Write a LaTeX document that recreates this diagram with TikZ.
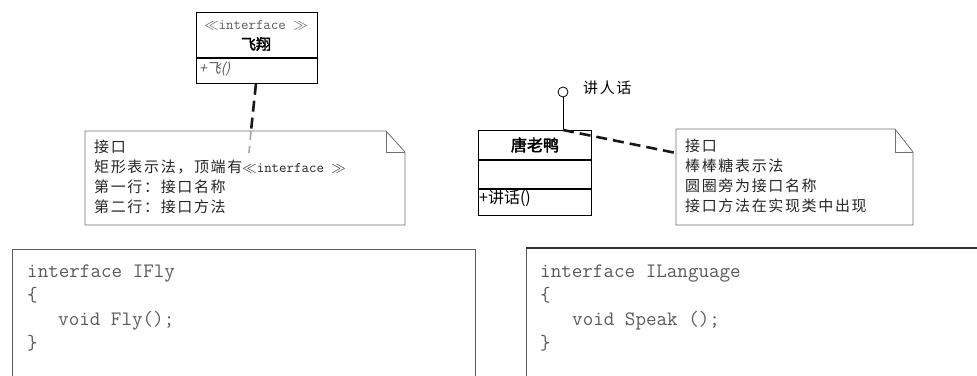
\documentclass[tikz,border=0pt]{standalone}
\usepackage{fontspec}
\setmainfont{Liberation Serif}
\newfontfamily\cjk[AutoFakeBold=2.5,AutoFakeSlant=0.2]{Noto Sans CJK SC}
\newfontfamily\cjkn[LetterSpace=11]{Noto Sans CJK SC}
\newcommand\stereofont{\ttfamily\fontsize{14.5}{16}\selectfont}
\newcommand\codefont{\ttfamily\fontsize{20.5}{24}\selectfont}
\definecolor{codegray}{HTML}{5A5A5A}
\definecolor{notegray}{HTML}{707070}
\tikzset{
  notebox/.style={draw=notegray, line width=0.8pt},
  notetext/.style={anchor=north west, inner sep=0pt, align=left, font=\cjkn\fontsize{15}{20}\selectfont, text=black!85},
  classbox/.style={draw=black, line width=0.9pt, minimum width=113pt, inner sep=0pt},
  conn/.style={line width=2.6pt, dash pattern=on 11pt off 6pt, black!90},
  codebox/.style={draw=codegray, line width=0.9pt},
  codetext/.style={anchor=base west, inner sep=0pt, font=\codefont, text=codegray},
}
\begin{document}
\begin{tikzpicture}[x=1pt,y=-1pt]
\useasboundingbox (0,0) rectangle (977,375);

% interface box 飞翔
\node[classbox, minimum width=121pt, minimum height=45pt, anchor=north west] (ifhead) at (196,12) {};
\node[classbox, minimum width=121pt, minimum height=25pt, anchor=north] (ifops) at (ifhead.south) {};
\node[inner sep=0pt, font=\stereofont, text=codegray] (stereo) at (256,25) {$\ll$interface $\gg$};
\node[inner sep=0pt, font=\cjk\bfseries\fontsize{15}{17}\selectfont] (ifname) at (256,44) {飞翔};
\node[anchor=west, inner sep=0pt, font=\cjk\itshape\fontsize{14}{16}\selectfont, text=codegray] (ifop) at (199,69) {+飞()};

% note 1
\draw[notebox, fill=white] (85,131) -- (386,131) -- (405,152) -- (405,225) -- (85,225) -- cycle;
\draw[notebox] (386,131) -- (386,152) -- (405,152);
\coordinate (n1top) at (251,131);
\coordinate (n1in) at (249,153);
\node[notetext] (n1text) at (94,140) {接口\\矩形表示法，顶端有{\stereofont$\ll$interface $\gg$}\\第一行：接口名称\\第二行：接口方法};
\coordinate (ifattach) at ([xshift=-1pt]ifops.south);
\draw[conn] (ifattach) -- (n1top);
\draw[line width=1.6pt, dash pattern=on 9pt off 6pt, black!35] (n1top) -- (n1in);

% class 唐老鸭
\node[classbox, minimum height=29pt, anchor=north west, font=\cjk\bfseries\fontsize{16}{18}\selectfont] (duckname) at (478,130) {唐老鸭};
\node[classbox, minimum height=28pt, anchor=north] (duckattr) at (duckname.south) {};
\node[classbox, minimum height=26pt, anchor=north] (duckops) at (duckattr.south) {};
\node[anchor=west, inner sep=0pt, font=\cjk\fontsize{16}{18}\selectfont] (duckop) at (479,198) {+讲话()};

% lollipop
\node[circle, draw=black, line width=0.8pt, minimum size=10pt, inner sep=0pt] (lol) at (563,92) {};
\coordinate (duckattach) at (563,130);
\draw[line width=0.8pt] (lol.south) -- (duckattach);
\node[anchor=west, inner sep=0pt, font=\cjkn\fontsize{15}{17}\selectfont] (lollabel) at (583,88) {讲人话};

% note 2
\draw[notebox, fill=white] (676,129) -- (895,129) -- (913,152) -- (913,225) -- (676,225) -- cycle;
\draw[notebox] (895,129) -- (895,152) -- (913,152);
\coordinate (n2left) at (676,153);
\node[notetext] (n2text) at (685,139) {接口\\棒棒糖表示法\\圆圈旁为接口名称\\接口方法在实现类中出现};
\draw[conn] (duckattach) -- (n2left);

% code box 1
\draw[codebox] (12,385) -- (12,249) coordinate (cb1tl) -- (475,249) coordinate (cb1tr) -- (475,385);
\node[codetext] (c1a) at (27,277) {interface IFly};
\node[codetext] (c1b) at (27,301) {\{};
\node[codetext] (c1c) at (58,325) {void Fly();};
\node[codetext] (c1d) at (27,349) {\}};

% code box 2
\draw[codebox] (526,385) -- (526,248) coordinate (cb2tl);
\draw[codebox, line width=1.8pt, draw=black!80] (cb2tl) -- (990,248);
\node[codetext] (c2a) at (540,277) {interface ILanguage};
\node[codetext] (c2b) at (540,301) {\{};
\node[codetext] (c2c) at (572,325) {void Speak ();};
\node[codetext] (c2d) at (540,349) {\}};
\end{tikzpicture}
\end{document}
